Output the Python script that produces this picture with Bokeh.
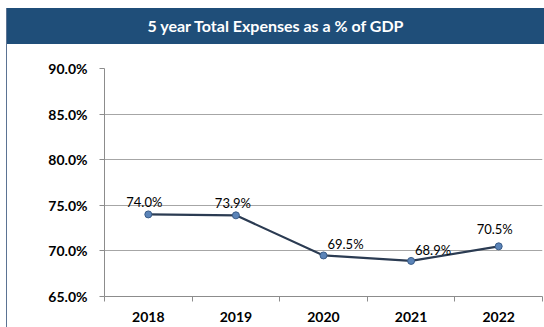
from bokeh.plotting import figure
from bokeh.models import (ColumnDataSource, FactorRange, LinearAxis, CategoricalAxis,
                          FixedTicker, NumeralTickFormatter, Div, LabelSet)
from bokeh.core.properties import value
from bokeh.layouts import column
from bokeh.embed import file_html
from bokeh.resources import INLINE

years = ["2018", "2019", "2020", "2021", "2022"]
values = [0.740, 0.739, 0.695, 0.689, 0.705]
labels = ["74.0%", "73.9%", "69.5%", "68.9%", "70.5%"]
y_ticks = [0.65, 0.70, 0.75, 0.80, 0.85, 0.90]
boundary_ticks = [0, 1, 2, 3, 4, 5]
title_text = "5 year Total Expenses as a % of GDP"

# label placement (style)
label_dx = [-4, -3, 22, 22, -4]
label_dy = [4, 4, 3, 3, 9]

FONT = "Lato"

source = ColumnDataSource(dict(year=years, value=values, label=labels,
                               dx=label_dx, dy=label_dy))

title = Div(text=title_text, width=537, height=36, margin=(0, 0, 0, 0),
            styles={"background-color": "#1F4E79", "color": "white",
                    "font-family": FONT, "font-weight": "bold", "font-size": "16px",
                    "text-align": "center", "line-height": "36px", "width": "537px"})

p = figure(x_range=FactorRange(*years, range_padding=0), y_range=(0.65, 0.90),
           width=537, height=283, output_backend="svg", toolbar_location=None,
           x_axis_location=None, y_axis_location=None,
           min_border_left=97, min_border_right=2, min_border_top=24, min_border_bottom=31)
p.outline_line_color = None
p.background_fill_color = "white"
p.border_fill_color = "white"

yaxis = LinearAxis(ticker=FixedTicker(ticks=y_ticks),
                   formatter=NumeralTickFormatter(format="0.0%"))
yaxis.axis_line_color = "#8C8C8C"
yaxis.major_tick_line_color = "#8C8C8C"
yaxis.major_tick_out = 5
yaxis.major_tick_in = 0
yaxis.minor_tick_line_color = None
yaxis.major_label_text_font = FONT
yaxis.major_label_text_font_style = "bold"
yaxis.major_label_text_font_size = "14px"
yaxis.major_label_text_color = "#000000"
yaxis.major_label_standoff = 12
p.add_layout(yaxis, "left")

tick_axis = LinearAxis(ticker=FixedTicker(ticks=boundary_ticks),
                       major_label_overrides={t: "" for t in boundary_ticks})
tick_axis.axis_line_color = "#8C8C8C"
tick_axis.major_tick_line_color = "#8C8C8C"
tick_axis.major_tick_out = 5
tick_axis.major_tick_in = 0
tick_axis.minor_tick_line_color = None
tick_axis.major_label_text_font_size = "1px"
tick_axis.major_label_standoff = 0
p.add_layout(tick_axis, "below")

xaxis = CategoricalAxis()
xaxis.axis_line_color = None
xaxis.major_tick_line_color = None
xaxis.major_label_text_font = FONT
xaxis.major_label_text_font_style = "bold"
xaxis.major_label_text_font_size = "14px"
xaxis.major_label_text_color = "#000000"
xaxis.major_label_standoff = 4
p.add_layout(xaxis, "below")

p.ygrid.ticker = FixedTicker(ticks=y_ticks)
p.ygrid.grid_line_color = "#A6A6A6"
p.xgrid.grid_line_color = None
p.ygrid.grid_line_width = 1

p.line("year", "value", source=source, line_color="#2B3B52", line_width=2.2)
p.scatter("year", "value", source=source, size=7, fill_color="#5B84B8",
          line_color="#3A5C88", line_width=1)

ls = LabelSet(x="year", y="value", text="label", source=source,
              x_offset="dx", y_offset="dy", text_align="center", text_baseline="bottom",
              text_font=value(FONT), text_font_size="13px", text_color="#000000")
p.add_layout(ls)

layout = column(title, p, spacing=0, margin=(8, 0, 0, 6),
                styles={"border-left": "1px solid #5B7393"})

open("out.html", "w").write(file_html(layout, INLINE))
